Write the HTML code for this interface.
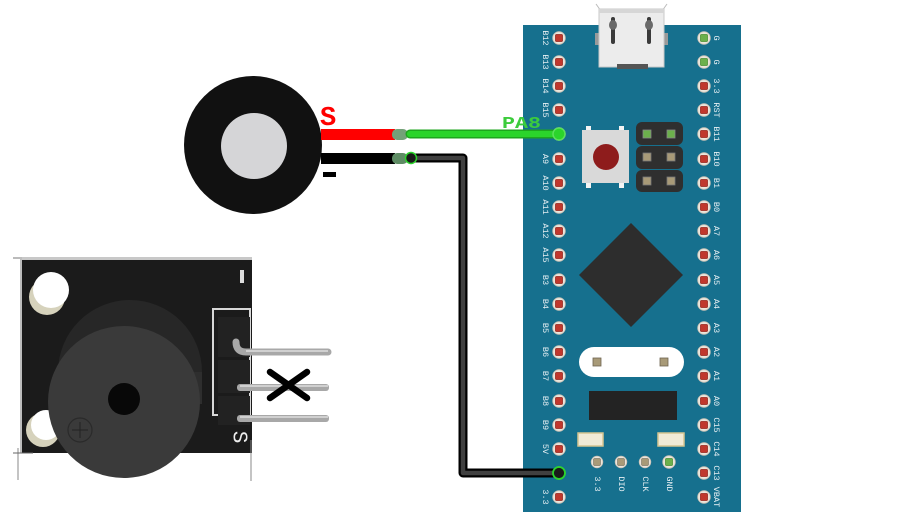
<!DOCTYPE html>
<html><head><meta charset="utf-8"><style>
html,body{margin:0;padding:0;background:#fff;}
svg{display:block;}
text{font-family:"Liberation Mono","DejaVu Sans Mono",monospace;}
</style></head><body>
<svg width="900" height="521" viewBox="0 0 900 521" xmlns="http://www.w3.org/2000/svg">
<defs>
<g id="pin"><circle r="6.3" fill="#ece6dc" stroke="#c9c2b6" stroke-width="0.8"/><rect x="-3.6" y="-3.6" width="7.2" height="7.2" rx="1" fill="#c0382d" stroke="#8e2a22" stroke-width="0.6"/></g>
<g id="gpin"><circle r="6.3" fill="#ece6dc" stroke="#c9c2b6" stroke-width="0.8"/><rect x="-3.6" y="-3.6" width="7.2" height="7.2" rx="1" fill="#6cb04c" stroke="#4a8a34" stroke-width="0.6"/></g>
<g id="tpin"><circle r="5.8" fill="#ece6dc" stroke="#c9c2b6" stroke-width="0.8"/><rect x="-3.4" y="-3.4" width="6.8" height="6.8" rx="1" fill="#a89a78" stroke="#6e6450" stroke-width="0.6"/></g>
</defs>

<!-- STM32 board -->
<rect x="523" y="25" width="218" height="487" fill="#16708e"/>

<!-- USB -->
<line x1="596" y1="4" x2="601" y2="11" stroke="#bbb" stroke-width="1"/>
<line x1="667" y1="4" x2="662" y2="11" stroke="#bbb" stroke-width="1"/>
<rect x="595" y="33" width="5" height="12" fill="#9a9a9a"/>
<rect x="663" y="33" width="5" height="12" fill="#9a9a9a"/>
<rect x="599" y="9" width="65" height="58" fill="#ececec" stroke="#c8c8c8" stroke-width="1"/>
<rect x="599" y="9" width="65" height="4" fill="#d6d6d6"/>
<rect x="611" y="17" width="4" height="27" rx="2" fill="#3a3a3a"/>
<ellipse cx="613" cy="25" rx="4" ry="5" fill="#6a6a6a"/>
<rect x="647" y="17" width="4" height="27" rx="2" fill="#3a3a3a"/>
<ellipse cx="649" cy="25" rx="4" ry="5" fill="#6a6a6a"/>
<rect x="617" y="64" width="31" height="5" fill="#555"/>

<!-- button -->
<rect x="586" y="126" width="5" height="6" fill="#f4f4f4"/>
<rect x="619" y="126" width="5" height="6" fill="#f4f4f4"/>
<rect x="586" y="182" width="5" height="6" fill="#f4f4f4"/>
<rect x="619" y="182" width="5" height="6" fill="#f4f4f4"/>
<rect x="582" y="130" width="47" height="53" fill="#d9d9d9"/>
<circle cx="606" cy="157" r="13" fill="#8e1c1c"/>

<!-- header -->
<rect x="636" y="122" width="47" height="23" rx="6" fill="#2f2f2f"/>
<rect x="636" y="146" width="47" height="23" rx="6" fill="#2f2f2f"/>
<rect x="636" y="170" width="47" height="22" rx="6" fill="#2f2f2f"/>
<rect x="643" y="130" width="8" height="8" fill="#6cb04c" stroke="#888" stroke-width="0.8"/>
<rect x="667" y="130" width="8" height="8" fill="#6cb04c" stroke="#888" stroke-width="0.8"/>
<rect x="643" y="153" width="8" height="8" fill="#a89a78" stroke="#777" stroke-width="0.8"/>
<rect x="667" y="153" width="8" height="8" fill="#a89a78" stroke="#777" stroke-width="0.8"/>
<rect x="643" y="177" width="8" height="8" fill="#a89a78" stroke="#777" stroke-width="0.8"/>
<rect x="667" y="177" width="8" height="8" fill="#a89a78" stroke="#777" stroke-width="0.8"/>

<!-- chip -->
<polygon points="631,223 683,275 631,327 579,275" fill="#2d2d2d"/>

<!-- crystal -->
<rect x="579" y="347" width="105" height="30" rx="15" fill="#ffffff"/>
<rect x="593" y="358" width="8" height="8" fill="#a89a78" stroke="#6e6450" stroke-width="0.8"/>
<rect x="660" y="358" width="8" height="8" fill="#a89a78" stroke="#6e6450" stroke-width="0.8"/>

<!-- black rect -->
<rect x="589" y="391" width="88" height="29" fill="#232323"/>

<!-- small smd -->
<rect x="578" y="433" width="25" height="13" fill="#f1ead6" stroke="#d6c590" stroke-width="1.5"/>
<rect x="658" y="433" width="26" height="13" fill="#f1ead6" stroke="#d6c590" stroke-width="1.5"/>

<!-- bottom pins -->
<use href="#tpin" x="597" y="462"/>
<use href="#tpin" x="621" y="462"/>
<use href="#tpin" x="645" y="462"/>
<use href="#gpin" x="669" y="462"/>
<g fill="#e6eff3" font-size="8.5" text-anchor="middle" dominant-baseline="central">
<text transform="translate(597,484) rotate(90)">3.3</text>
<text transform="translate(621,484) rotate(90)">DIO</text>
<text transform="translate(645,484) rotate(90)">CLK</text>
<text transform="translate(669,484) rotate(90)">GND</text>
</g>

<!-- left pins -->
<use href="#pin" x="559" y="38"/><use href="#pin" x="559" y="62"/><use href="#pin" x="559" y="86"/><use href="#pin" x="559" y="110"/>
<use href="#pin" x="559" y="134"/><use href="#pin" x="559" y="159"/><use href="#pin" x="559" y="183"/><use href="#pin" x="559" y="207"/>
<use href="#pin" x="559" y="231"/><use href="#pin" x="559" y="255"/><use href="#pin" x="559" y="280"/><use href="#pin" x="559" y="304"/>
<use href="#pin" x="559" y="328"/><use href="#pin" x="559" y="352"/><use href="#pin" x="559" y="376"/><use href="#pin" x="559" y="401"/>
<use href="#pin" x="559" y="425"/><use href="#pin" x="559" y="449"/><use href="#pin" x="559" y="473"/><use href="#pin" x="559" y="497"/>

<!-- right pins -->
<use href="#gpin" x="704" y="38"/><use href="#gpin" x="704" y="62"/><use href="#pin" x="704" y="86"/><use href="#pin" x="704" y="110"/>
<use href="#pin" x="704" y="134"/><use href="#pin" x="704" y="159"/><use href="#pin" x="704" y="183"/><use href="#pin" x="704" y="207"/>
<use href="#pin" x="704" y="231"/><use href="#pin" x="704" y="255"/><use href="#pin" x="704" y="280"/><use href="#pin" x="704" y="304"/>
<use href="#pin" x="704" y="328"/><use href="#pin" x="704" y="352"/><use href="#pin" x="704" y="376"/><use href="#pin" x="704" y="401"/>
<use href="#pin" x="704" y="425"/><use href="#pin" x="704" y="449"/><use href="#pin" x="704" y="473"/><use href="#pin" x="704" y="497"/>

<!-- left labels -->
<g fill="#e6eff3" font-size="8.5" text-anchor="middle" dominant-baseline="central">
<text transform="translate(545,38) rotate(90)">B12</text>
<text transform="translate(545,62) rotate(90)">B13</text>
<text transform="translate(545,86) rotate(90)">B14</text>
<text transform="translate(545,110) rotate(90)">B15</text>
<text transform="translate(545,159) rotate(90)">A9</text>
<text transform="translate(545,183) rotate(90)">A10</text>
<text transform="translate(545,207) rotate(90)">A11</text>
<text transform="translate(545,231) rotate(90)">A12</text>
<text transform="translate(545,255) rotate(90)">A15</text>
<text transform="translate(545,280) rotate(90)">B3</text>
<text transform="translate(545,304) rotate(90)">B4</text>
<text transform="translate(545,328) rotate(90)">B5</text>
<text transform="translate(545,352) rotate(90)">B6</text>
<text transform="translate(545,376) rotate(90)">B7</text>
<text transform="translate(545,401) rotate(90)">B8</text>
<text transform="translate(545,425) rotate(90)">B9</text>
<text transform="translate(545,449) rotate(90)">5V</text>
<text transform="translate(545,497) rotate(90)">3.3</text>
</g>
<!-- right labels -->
<g fill="#e6eff3" font-size="8.5" text-anchor="middle" dominant-baseline="central">
<text transform="translate(716,38) rotate(90)">G</text>
<text transform="translate(716,62) rotate(90)">G</text>
<text transform="translate(716,86) rotate(90)">3.3</text>
<text transform="translate(716,110) rotate(90)">RST</text>
<text transform="translate(716,134) rotate(90)">B11</text>
<text transform="translate(716,159) rotate(90)">B10</text>
<text transform="translate(716,183) rotate(90)">B1</text>
<text transform="translate(716,207) rotate(90)">B0</text>
<text transform="translate(716,231) rotate(90)">A7</text>
<text transform="translate(716,255) rotate(90)">A6</text>
<text transform="translate(716,280) rotate(90)">A5</text>
<text transform="translate(716,304) rotate(90)">A4</text>
<text transform="translate(716,328) rotate(90)">A3</text>
<text transform="translate(716,352) rotate(90)">A2</text>
<text transform="translate(716,376) rotate(90)">A1</text>
<text transform="translate(716,401) rotate(90)">A0</text>
<text transform="translate(716,425) rotate(90)">C15</text>
<text transform="translate(716,449) rotate(90)">C14</text>
<text transform="translate(716,473) rotate(90)">C13</text>
<text transform="translate(716,497) rotate(90)">VBAT</text>
</g>

<!-- piezo -->
<circle cx="253" cy="145" r="69" fill="#111111"/>
<circle cx="254" cy="146" r="33" fill="#d5d5d7"/>
<rect x="321" y="129" width="74" height="11" fill="#ff0000"/>
<rect x="321" y="153" width="74" height="11" fill="#000000"/>
<rect x="392" y="129" width="16" height="11" rx="5" fill="#74a178"/>
<rect x="392" y="153" width="16" height="11" rx="5" fill="#5e8c64"/>
<text x="320" y="125" font-family="Liberation Sans, sans-serif" font-weight="bold" font-size="27" fill="#ff0000">S</text>
<rect x="323" y="172" width="13" height="5" fill="#000"/>

<!-- black wire -->
<path d="M410 158 L463 158 L463 473 L559 473" fill="none" stroke="#000" stroke-width="9" stroke-linejoin="round"/>
<path d="M410 158 L463 158 L463 473 L559 473" fill="none" stroke="#404040" stroke-width="4.5" stroke-linejoin="round"/>
<circle cx="411" cy="158" r="5.5" fill="#1a1a1a" stroke="#2bd42b" stroke-width="1.5"/>
<circle cx="559" cy="473" r="6" fill="#1a1a1a" stroke="#2bd42b" stroke-width="1.8"/>

<!-- green wire -->
<path d="M410 134 L559 134" fill="none" stroke="#1ea61e" stroke-width="9" stroke-linecap="round"/>
<path d="M410 134 L559 134" fill="none" stroke="#2bd42b" stroke-width="6" stroke-linecap="round"/>
<circle cx="559" cy="134" r="6" fill="#2bd42b" stroke="#5be05b" stroke-width="1.5"/>
<text x="502" y="128" font-family="Liberation Sans, sans-serif" font-weight="bold" font-size="17" fill="#3ccc3c" textLength="39" lengthAdjust="spacingAndGlyphs">PA8</text>

<!-- buzzer module -->
<line x1="13" y1="258" x2="33" y2="258" stroke="#777" stroke-width="1"/>
<rect x="20" y="257" width="232" height="196" fill="#1b1b1b"/>
<rect x="20" y="257" width="232" height="3" fill="#c8c8c8"/>
<rect x="20" y="257" width="2" height="196" fill="#bdbdbd"/>
<line x1="18" y1="448" x2="18" y2="480" stroke="#888" stroke-width="1"/>
<line x1="13" y1="453" x2="33" y2="453" stroke="#666" stroke-width="1"/>
<line x1="251" y1="440" x2="251" y2="481" stroke="#888" stroke-width="1"/>
<!-- holes -->
<circle cx="47" cy="297" r="18" fill="#d6d2bc"/>
<circle cx="51" cy="290" r="18" fill="#ffffff"/>
<circle cx="43" cy="430" r="17" fill="#d6d2bc"/>
<circle cx="46" cy="425" r="15" fill="#ffffff"/>
<!-- cylinder -->
<circle cx="130" cy="372" r="72" fill="#272727"/>
<rect x="58" y="372" width="144" height="32" fill="#2e2e2e"/>
<circle cx="124" cy="402" r="76" fill="#3a3a3a"/>
<circle cx="124" cy="399" r="16" fill="#080808"/>
<circle cx="80" cy="430" r="12" fill="none" stroke="#2a2a2a" stroke-width="1.2"/>
<line x1="72" y1="430" x2="88" y2="430" stroke="#262626" stroke-width="1.2"/>
<line x1="80" y1="422" x2="80" y2="438" stroke="#262626" stroke-width="1.2"/>
<!-- header -->
<rect x="213" y="309" width="37" height="106" fill="none" stroke="#d8d8d8" stroke-width="2"/>
<rect x="218" y="317" width="32" height="40" fill="#222"/>
<rect x="218" y="360" width="32" height="33" fill="#222"/>
<rect x="218" y="396" width="32" height="29" fill="#222"/>
<path d="M236 342 Q236 352 246 352 L328 352" fill="none" stroke="#a8a8a8" stroke-width="7" stroke-linecap="round"/>
<rect x="237" y="384" width="92" height="7" rx="3" fill="#a8a8a8"/>
<rect x="237" y="415" width="92" height="7" rx="3" fill="#a8a8a8"/>
<line x1="246" y1="351" x2="328" y2="351" stroke="#d0d0d0" stroke-width="2"/>
<line x1="240" y1="386" x2="328" y2="386" stroke="#d0d0d0" stroke-width="2"/>
<line x1="240" y1="417" x2="328" y2="417" stroke="#d0d0d0" stroke-width="2"/>
<rect x="240" y="270" width="4" height="13" fill="#dddddd"/>
<text transform="translate(238,437) rotate(90)" font-family="Liberation Sans, sans-serif" font-size="21" fill="#eeeeee" text-anchor="middle" dominant-baseline="central">S</text>
<!-- X -->
<line x1="270" y1="372" x2="307" y2="398" stroke="#000" stroke-width="6.5" stroke-linecap="round"/>
<line x1="270" y1="398" x2="307" y2="372" stroke="#000" stroke-width="6.5" stroke-linecap="round"/>
</svg>
</body></html>
